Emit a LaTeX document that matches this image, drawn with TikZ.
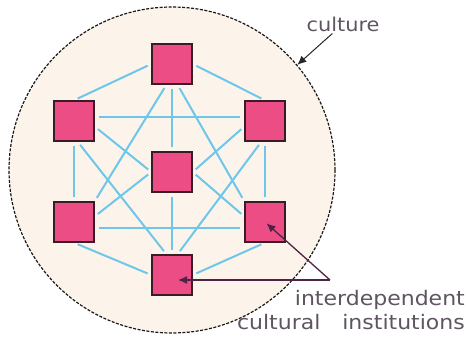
\documentclass[tikz,border=0pt]{standalone}
\usepackage{fontspec}
\newfontfamily\notefont[FakeStretch=1.1]{DejaVu Sans}
\usepackage{xcolor}
\usetikzlibrary{arrows.meta}
\definecolor{culturecream}{HTML}{FCF4EA}
\definecolor{instpink}{HTML}{EC4D84}
\definecolor{instedge}{HTML}{3A1C28}
\definecolor{linkblue}{HTML}{6EC6EA}
\definecolor{notepurple}{HTML}{4E2446}
\definecolor{notegray}{HTML}{5E5560}
\tikzset{
  inst/.style={draw=instedge,fill=instpink,line width=1.4pt,
    minimum size=40pt,inner sep=0pt},
  link/.style={draw=linkblue,line width=2pt,shorten >=4pt,shorten <=4pt},
  cultureborder/.style={circle,draw=black!90,dash pattern=on 3pt off 1.5pt,
    line width=1.2pt,fill=culturecream,minimum size=326pt},
  pointer/.style={-{Latex[length=9pt,width=8pt]},line width=1.3pt,draw=notepurple},
  notetext/.style={text=notegray,font=\fontsize{20}{24}\notefont,inner sep=2pt}
}

\begin{document}
\begin{tikzpicture}[x=1pt,y=-1pt]
\useasboundingbox (0,0) rectangle (466,344);
\node[cultureborder] (culture) at (172,170) {};

\node[inst] (top) at (172,64) {};
\node[inst] (ul) at (74,121) {};
\node[inst] (ur) at (265,121) {};
\node[inst] (mid) at (172,172) {};
\node[inst] (ll) at (74,222) {};
\node[inst] (lr) at (265,222) {};
\node[inst] (bot) at (172,275) {};

% outer hexagon
\draw[link] (top.west) -- (ul.north);
\draw[link] (top.east) -- (ur.north);
\draw[link] (ul.south) -- (ll.north);
\draw[link] (ur.south) -- (lr.north);
\draw[link] (ll.south) -- (bot.west);
\draw[link] (lr.south) -- (bot.east);
% chords
\draw[link] (ul.10) -- (ur.170);
\draw[link] (ll.-15) -- (lr.195);
\draw[link] (top.255) -- (ll.north east);
\draw[link] (top.285) -- (lr.north west);
\draw[link] (ul.-80) -- (bot.105);
\draw[link] (ur.-100) -- (bot.75);
% spokes
\draw[link] (top) -- (mid);
\draw[link] (mid) -- (bot);
\draw[link] (ul.-15) -- (mid.west);
\draw[link] (ll.15) -- (mid.west);
\draw[link] (ur.195) -- (mid.east);
\draw[link] (lr.165) -- (mid.east);

% labels
\node[notetext, font=\fontsize{19}{22}\notefont] (culturetxt) at (343,24) {culture};
\draw[pointer, draw=black!85, line width=1pt] (culturetxt) -- (culture.40);

\node[notetext, anchor=base east] (insttxt) at (467,306) {interdependent};
\node[notetext, anchor=base east] (insttxt2) at (467,330) {cultural\hspace{22pt}institutions};
\coordinate (fork) at (330,280);
\draw[pointer, shorten >=6pt] (fork) -- (fork -| bot);
\draw[pointer, shorten >=2pt] (fork) -- (lr.center);
\end{tikzpicture}
\end{document}
